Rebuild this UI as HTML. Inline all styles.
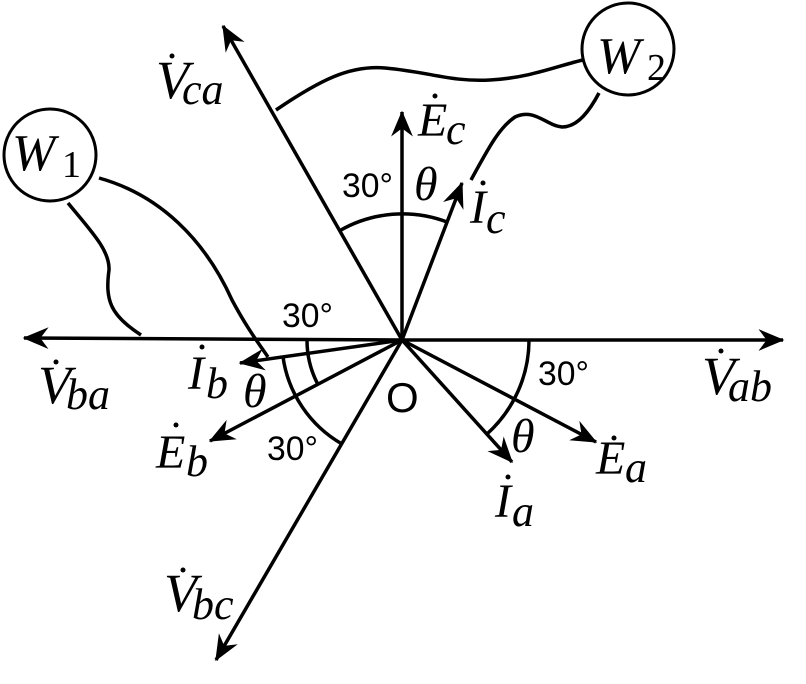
<!DOCTYPE html>
<html><head><meta charset="utf-8"><style>
html,body{margin:0;padding:0;background:#fff;}
svg{display:block}
.m{font-family:"Liberation Serif","DejaVu Serif",serif;font-style:italic;fill:#000}
.s{font-family:"Liberation Sans",sans-serif;fill:#000}
.n{font-family:"Liberation Serif",serif;fill:#000}
</style></head><body>
<svg width="806" height="684" viewBox="0 0 806 684" xmlns="http://www.w3.org/2000/svg">
<defs>
<marker id="a" markerWidth="30" markerHeight="30" refX="0" refY="0" viewBox="-20 -10 22 20" markerUnits="userSpaceOnUse" orient="auto">
<path d="M1,0 L-18,-8 L-12,0 L-18,8 Z" fill="#000"/>
</marker>
</defs>
<g stroke="#000" stroke-width="3.5" fill="none">
<line x1="402" y1="340" x2="783" y2="340" marker-end="url(#a)"/>
<line x1="402" y1="340" x2="24" y2="338" marker-end="url(#a)"/>
<line x1="402" y1="340" x2="223" y2="26" marker-end="url(#a)"/>
<line x1="402" y1="340" x2="216" y2="660" marker-end="url(#a)"/>
<line x1="402" y1="340" x2="402" y2="112" marker-end="url(#a)"/>
<line x1="402" y1="340" x2="462" y2="183" marker-end="url(#a)"/>
<line x1="402" y1="340" x2="240" y2="363" marker-end="url(#a)"/>
<line x1="402" y1="340" x2="210" y2="441" marker-end="url(#a)"/>
<line x1="402" y1="340" x2="596" y2="442" marker-end="url(#a)"/>
<line x1="402" y1="340" x2="512" y2="462" marker-end="url(#a)"/>
<path d="M340,230.5 A126,126 0 0 1 447,222"/>
<path d="M307,340 A95,95 0 0 0 317.5,383.6"/>
<path d="M283,357 A120,120 0 0 0 342,444"/>
<path d="M529,340 A127,127 0 0 1 487,434"/>
<path d="M99,178 C160,195 205,240 232,300 C248,330 260,345 268,357"/>
<path d="M68,203 C90,230 110,250 109,270 C105,300 110,315 141,335"/>
<path d="M276,110 C320,80 350,65 385,68 C430,72 450,82 490,80 C530,78 560,65 583,60"/>
<path d="M599,93 C590,110 578,127 562,127 C545,125 535,108 515,117 C500,127 490,145 471,180"/>
</g>
<circle cx="50" cy="155" r="46" fill="#fff" stroke="#000" stroke-width="3"/>
<circle cx="628" cy="49" r="46" fill="#fff" stroke="#000" stroke-width="3"/>
<text class="m" x="12" y="170" font-size="52">W</text><text class="n" x="62" y="177" font-size="38">1</text>
<text class="m" x="597" y="73" font-size="52">W</text><text class="n" x="647" y="80" font-size="38">2</text>
<g fill="#000">
<circle cx="172" cy="56" r="2.5"/><circle cx="435" cy="96" r="2.5"/><circle cx="483" cy="183" r="2.5"/>
<circle cx="56" cy="362" r="2.5"/><circle cx="721" cy="351" r="2.5"/><circle cx="202" cy="347" r="2.5"/>
<circle cx="176" cy="425" r="2.5"/><circle cx="508" cy="477" r="2.5"/><circle cx="183" cy="570" r="2.5"/>
<circle cx="614" cy="438" r="2.5"/>
</g>
<text class="m" x="156" y="98" font-size="54">V</text><text class="m" x="182" y="104" font-size="44">ca</text>
<text class="m" x="418" y="136" font-size="48">E</text><text class="m" x="446" y="144" font-size="44">c</text>
<text class="m" x="470" y="223" font-size="48">I</text><text class="m" x="486" y="233" font-size="44">c</text>
<text class="m" x="38" y="403" font-size="54">V</text><text class="m" x="66" y="409" font-size="44">ba</text>
<text class="m" x="702" y="394" font-size="54">V</text><text class="m" x="728" y="401" font-size="44">ab</text>
<text class="m" x="188" y="389" font-size="48">I</text><text class="m" x="206" y="398" font-size="44">b</text>
<text class="m" x="156" y="468" font-size="48">E</text><text class="m" x="186" y="476" font-size="44">b</text>
<text class="m" x="495" y="517" font-size="48">I</text><text class="m" x="512" y="526" font-size="44">a</text>
<text class="m" x="164" y="611" font-size="54">V</text><text class="m" x="192" y="619" font-size="44">bc</text>
<text class="m" x="596" y="474" font-size="48">E</text><text class="m" x="625" y="482" font-size="44">a</text>
<text class="m" x="414" y="200" font-size="48">θ</text>
<text class="m" x="243" y="407" font-size="48">θ</text>
<text class="m" x="511" y="452" font-size="48">θ</text>
<text class="s" x="342" y="197" font-size="34" textLength="51" lengthAdjust="spacingAndGlyphs">30°</text>
<text class="s" x="282" y="327" font-size="34" textLength="51" lengthAdjust="spacingAndGlyphs">30°</text>
<text class="s" x="538" y="385" font-size="34" textLength="51" lengthAdjust="spacingAndGlyphs">30°</text>
<text class="s" x="267" y="460" font-size="34" textLength="51" lengthAdjust="spacingAndGlyphs">30°</text>
<text class="s" x="386" y="412" font-size="42">O</text>
</svg>
</body></html>
